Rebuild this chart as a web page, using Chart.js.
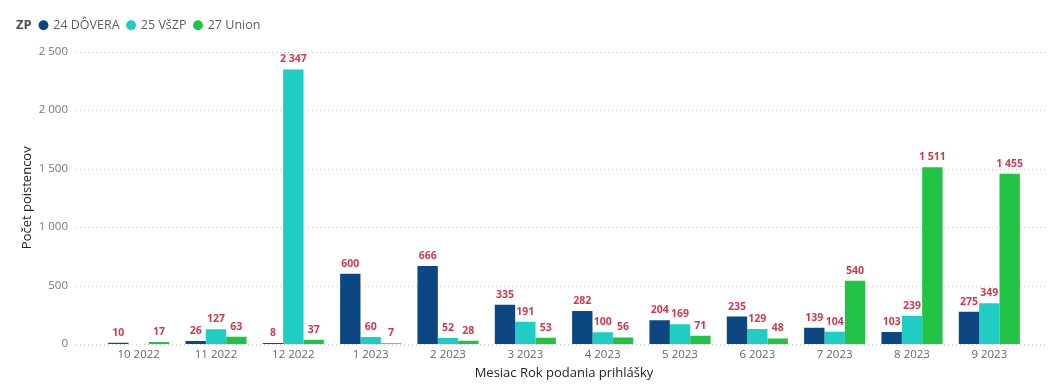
<!DOCTYPE html>
<html>
<head>
<meta charset="utf-8">
<script src="https://cdn.jsdelivr.net/npm/chart.js@4.4.0/dist/chart.umd.min.js"></script>
<style>
  html, body { margin: 0; padding: 0; background: #fff; }
  #wrap { width: 1062px; height: 387px; position: relative; }
</style>
</head>
<body>
<div id="wrap"><canvas id="myChart"></canvas></div>
<script>
// data
const months = ["10 2022", "11 2022", "12 2022", "1 2023", "2 2023", "3 2023",
  "4 2023", "5 2023", "6 2023", "7 2023", "8 2023", "9 2023"];
const dovera = [10, 26, 8, 600, 666, 335, 282, 204, 235, 139, 103, 275];
const vszp = [null, 127, 2347, 60, 52, 191, 100, 169, 129, 104, 239, 349];
const union = [17, 63, 37, 7, 28, 53, 56, 71, 48, 540, 1511, 1455];
const seriesNames = ["24 DÔVERA", "25 VšZP", "27 Union"];
const seriesColors = ["#0C4781", "#1FCDC5", "#22C345"];
const legendTitle = "ZP";
const yMax = 2500;
const yStep = 500;

const FONT = "'Open Sans', sans-serif";

function fmt(v) {
  return String(v).replace(/\B(?=(\d{3})+(?!\d))/g, " ");
}

// dotted horizontal grid, a bit wider than the bar area like Power BI
const dottedGrid = {
  id: "dottedGrid",
  beforeDatasetsDraw(chart) {
    const ctx = chart.ctx;
    const y = chart.scales.y;
    const area = chart.chartArea;
    ctx.save();
    ctx.strokeStyle = "#c8c8c8";
    ctx.lineWidth = 1;
    ctx.setLineDash([1, 3]);
    y.ticks.forEach(function (t) {
      const py = Math.round(y.getPixelForValue(t.value)) + 0.5;
      ctx.beginPath();
      ctx.moveTo(area.left - 24, py);
      ctx.lineTo(area.right + 20, py);
      ctx.stroke();
    });
    ctx.restore();
  },
};

// red value labels on top of the bars
const valueLabels = {
  id: "valueLabels",
  afterDatasetsDraw(chart) {
    const ctx = chart.ctx;
    ctx.save();
    ctx.font = "bold 10.5px " + FONT;
    ctx.fillStyle = "#D13A4C";
    ctx.textAlign = "center";
    ctx.textBaseline = "alphabetic";
    chart.data.datasets.forEach(function (ds, i) {
      const meta = chart.getDatasetMeta(i);
      meta.data.forEach(function (bar, j) {
        const v = ds.data[j];
        if (v === null || v === undefined) return;
        ctx.fillText(fmt(v), bar.x, bar.y - 7);
      });
    });
    ctx.restore();
  },
};

// move legend right/up and put the "ZP" title in front of it
const legendTitlePlugin = {
  id: "legendTitlePlugin",
  afterLayout(chart) {
    const lg = chart.legend;
    lg.left += 32;
    lg.right += 32;
    lg.top -= 10;
    lg.bottom -= 10;
  },
  afterDraw(chart) {
    const ctx = chart.ctx;
    const lg = chart.legend;
    ctx.save();
    ctx.font = "bold 13px " + FONT;
    ctx.fillStyle = "#505050";
    ctx.textAlign = "left";
    ctx.textBaseline = "middle";
    ctx.fillText(legendTitle, 16, lg.top + 8 + 6.5);
    ctx.restore();
  },
};

const myChart = document.getElementById("myChart");

const myGraph = new Chart(myChart, {
  type: "bar",
  data: {
    labels: months,
    datasets: [
      { label: seriesNames[0], data: dovera, backgroundColor: seriesColors[0] },
      { label: seriesNames[1], data: vszp, backgroundColor: seriesColors[1] },
      { label: seriesNames[2], data: union, backgroundColor: seriesColors[2] },
    ],
  },
  options: {
    responsive: true,
    maintainAspectRatio: false,
    animation: false,
    barPercentage: 1,
    categoryPercentage: 0.79,
    layout: {
      padding: { top: 21, right: 34, bottom: 0, left: 0 },
    },
    plugins: {
      legend: {
        position: "top",
        align: "start",
        labels: {
          usePointStyle: true,
          pointStyle: "circle",
          boxWidth: 7,
          boxHeight: 7,
          padding: 8,
          color: "#605E5C",
          font: { family: FONT, size: 12.5 },
        },
      },
      tooltip: { enabled: false },
    },
    scales: {
      x: {
        offset: true,
        grid: { display: false, drawTicks: false },
        border: { display: false },
        ticks: {
          color: "#666666",
          padding: 4,
          font: { family: FONT, size: 11.5 },
          maxRotation: 0,
        },
        title: {
          display: true,
          text: "Mesiac Rok podania prihlášky",
          color: "#252423",
          font: { family: FONT, size: 13 },
          padding: { top: 0, bottom: 6 },
        },
        afterFit(scale) {
          scale.height = 43;
        },
      },
      y: {
        min: 0,
        max: yMax,
        grid: { display: false, drawTicks: false },
        border: { display: false },
        ticks: {
          stepSize: yStep,
          color: "#777777",
          padding: 32,
          font: { family: FONT, size: 11.5 },
          callback: function (v) {
            return fmt(v);
          },
        },
        title: {
          display: true,
          text: "Počet poistencov",
          color: "#252423",
          font: { family: FONT, size: 13 },
          padding: { top: 19, bottom: 0 },
        },
        afterFit(scale) {
          scale.width = 100;
        },
      },
    },
  },
  plugins: [dottedGrid, valueLabels, legendTitlePlugin],
});
</script>
</body>
</html>
